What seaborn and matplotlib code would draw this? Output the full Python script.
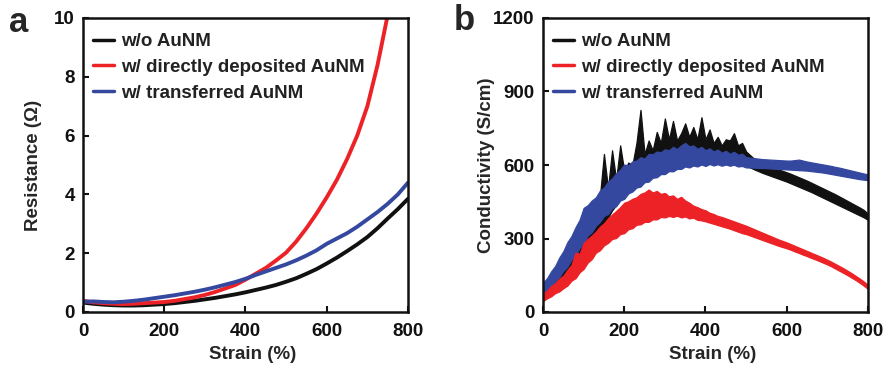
import numpy as np
import pandas as pd
import matplotlib
matplotlib.use("Agg")
import matplotlib.pyplot as plt
import seaborn as sns

# ---------------- data ----------------
series_names = ["w/o AuNM", "w/ directly deposited AuNM", "w/ transferred AuNM"]
series_colors = ["#111111", "#ec2227", "#3548a0"]

# Panel a: resistance vs strain
strain_a = [0, 25, 50, 75, 100, 125, 150, 175, 200, 225, 250, 275, 300, 325, 350, 375,
            400, 425, 450, 475, 500, 525, 550, 575, 600, 625, 650, 675, 700, 725, 750, 775, 800]
res_black = [0.32, 0.28, 0.25, 0.23, 0.22, 0.22, 0.23, 0.25, 0.27, 0.30, 0.34, 0.38, 0.43, 0.48,
             0.54, 0.60, 0.67, 0.75, 0.83, 0.92, 1.03, 1.15, 1.30, 1.46, 1.65, 1.85, 2.07, 2.30,
             2.55, 2.85, 3.18, 3.50, 3.85]
res_red = [0.38, 0.33, 0.30, 0.28, 0.27, 0.28, 0.30, 0.32, 0.34, 0.38, 0.44, 0.50, 0.58, 0.68,
           0.80, 0.92, 1.10, 1.30, 1.50, 1.75, 2.02, 2.40, 2.85, 3.35, 3.90, 4.50, 5.20, 6.00,
           7.00, 8.40, 10.10, 12.00, 14.00]
res_blue = [0.35, 0.36, 0.34, 0.33, 0.35, 0.38, 0.42, 0.47, 0.52, 0.57, 0.63, 0.69, 0.76, 0.84,
            0.93, 1.02, 1.13, 1.26, 1.38, 1.50, 1.62, 1.76, 1.92, 2.10, 2.32, 2.50, 2.68, 2.90,
            3.15, 3.40, 3.68, 4.00, 4.40]

# Panel b: conductivity vs strain (noisy traces: lower / upper edge of the trace)
strain_b = [0, 10, 20, 30, 40, 50, 60, 70, 80, 90, 100, 110, 120, 130, 140, 150, 160, 170, 180,
            190, 200, 210, 220, 230, 240, 250, 260, 270, 280, 290, 300, 310, 320, 330, 340, 350,
            360, 370, 380, 390, 400, 410, 420, 430, 440, 450, 460, 470, 480, 490, 500, 510, 520,
            530, 540, 550, 560, 570, 580, 590, 600, 610, 620, 630, 640, 650, 660, 670, 680, 690,
            700, 710, 720, 730, 740, 750, 760, 770, 780, 790, 800]
cond_black_low = [45, 60, 74, 95, 110, 126, 148, 170, 192, 218,
                  235, 262, 284, 310, 335, 362, 385, 415, 436, 462,
                  475, 500, 505, 532, 535, 552, 556, 575, 575, 595,
                  592, 608, 602, 618, 608, 625, 612, 628, 614, 626,
                  615, 624, 608, 622, 610, 616, 604, 612, 600, 604,
                  595, 590, 582, 575, 568, 562, 556, 550, 544, 538,
                  532, 525, 518, 511, 504, 497, 490, 482, 474, 466,
                  458, 450, 442, 434, 426, 418, 410, 402, 394, 386, 376]
cond_black_high = [70, 90, 110, 132, 152, 178, 198, 236, 258, 292,
                   325, 385, 405, 420, 470, 645, 505, 660, 540, 680,
                   575, 610, 600, 690, 825, 645, 700, 660, 735, 690,
                   790, 705, 780, 700, 730, 770, 715, 755, 705, 795,
                   705, 745, 690, 715, 680, 705, 700, 730, 680, 690,
                   655, 640, 625, 615, 607, 600, 594, 588, 582, 576,
                   570, 564, 557, 550, 543, 536, 528, 520, 512, 504,
                   496, 488, 480, 471, 462, 453, 444, 435, 426, 416, 400]
cond_blue_low = [75, 92, 104, 126, 143, 168, 185, 214, 230, 262,
                 280, 312, 326, 352, 368, 392, 400, 424, 432, 455,
                 462, 484, 492, 508, 512, 530, 532, 548, 550, 563,
                 563, 575, 574, 584, 584, 594, 590, 598, 594, 602,
                 596, 604, 598, 603, 597, 602, 597, 601, 594, 596,
                 590, 590, 589, 588, 588, 587, 586, 585, 584, 583,
                 582, 581, 580, 579, 578, 577, 575, 573, 571, 569,
                 566, 563, 560, 557, 554, 551, 548, 545, 542, 540, 538]
cond_blue_high = [120, 138, 166, 188, 222, 248, 285, 310, 346, 376,
                  425, 436, 455, 468, 495, 508, 532, 545, 566, 580,
                  602, 598, 615, 618, 632, 626, 645, 644, 655, 652,
                  664, 660, 674, 665, 680, 690, 676, 680, 666, 674,
                  660, 668, 655, 663, 650, 658, 646, 654, 642, 646,
                  632, 630, 628, 626, 624, 623, 622, 621, 620, 619,
                  618, 618, 620, 622, 618, 614, 611, 608, 605, 602,
                  599, 596, 592, 589, 585, 581, 577, 573, 569, 565, 562]
cond_red_low = [45, 56, 64, 77, 84, 97, 108, 128, 138, 162,
                176, 202, 216, 242, 252, 272, 282, 298, 302, 318,
                322, 338, 342, 356, 358, 368, 368, 378, 378, 388,
                386, 392, 388, 393, 386, 390, 382, 385, 376, 374,
                370, 365, 360, 355, 350, 345, 340, 334, 328, 322,
                318, 312, 306, 300, 294, 288, 282, 276, 270, 265,
                260, 254, 247, 241, 234, 228, 221, 215, 208, 201,
                194, 186, 177, 168, 159, 150, 140, 130, 119, 107, 94]
cond_red_high = [75, 88, 106, 118, 136, 148, 172, 192, 242, 238,
                 282, 298, 312, 328, 348, 362, 382, 398, 412, 428,
                 446, 452, 462, 468, 482, 488, 500, 488, 494, 482,
                 486, 472, 476, 462, 470, 455, 446, 434, 428, 420,
                 415, 405, 400, 392, 388, 382, 376, 370, 364, 358,
                 352, 345, 338, 331, 324, 317, 310, 303, 296, 290,
                 284, 277, 270, 263, 256, 249, 242, 235, 228, 221,
                 213, 205, 196, 187, 178, 168, 158, 147, 136, 124, 110]

df_a = {
    n: pd.DataFrame({"Strain": strain_a, "Value": v})
    for v, n in zip([res_black, res_red, res_blue], series_names)
}
df_b = {
    n: pd.DataFrame({"Strain": strain_b + strain_b, "Value": lo + hi})
    for lo, hi, n in zip([cond_black_low, cond_red_low, cond_blue_low],
                         [cond_black_high, cond_red_high, cond_blue_high], series_names)
}

# ---------------- style ----------------
sns.set_theme(style="ticks")
plt.rcParams["font.family"] = ["Liberation Sans", "DejaVu Sans"]
plt.rcParams["font.weight"] = "bold"
plt.rcParams["axes.labelweight"] = "bold"

fig = plt.figure(figsize=(8.87, 3.71), dpi=100)
ax_a = fig.add_axes([83 / 887, 59 / 371, 325 / 887, 294 / 371])
ax_b = fig.add_axes([543 / 887, 59 / 371, 325 / 887, 294 / 371])

palette = dict(zip(series_names, series_colors))

for n in series_names:
    sns.lineplot(data=df_a[n], x="Strain", y="Value", color=palette[n], label=n,
                 ax=ax_a, linewidth=2.8, sort=False, estimator=None)

# draw order in b: black, blue, red (legend order kept separately)
for z, n in enumerate([series_names[0], series_names[2], series_names[1]]):
    sns.lineplot(data=df_b[n], x="Strain", y="Value", color=palette[n], label=n,
                 ax=ax_b, linewidth=0.5, errorbar=("pi", 100), zorder=3 + z,
                 err_kws={"alpha": 1.0, "linewidth": 0.9, "edgecolor": palette[n],
                          "zorder": 3 + z})


def style_axes(ax, ylim, yticks, ylabel, ylab_x):
    ax.set_xlim(0, 800)
    ax.set_ylim(*ylim)
    ax.set_xticks([0, 200, 400, 600, 800])
    ax.set_yticks(yticks)
    ax.set_xlabel("Strain (%)", fontsize=13.5, fontweight="bold")
    ax.set_ylabel(ylabel, fontsize=13.5, fontweight="bold")
    ax.xaxis.set_label_coords(0.523, -0.115)
    ax.yaxis.set_label_coords(ylab_x, 0.5)
    for s in ax.spines.values():
        s.set_visible(True)
        s.set_linewidth(1.8)
        s.set_color("#111111")
        s.set_zorder(10)
    ax.tick_params(direction="in", length=4, width=1.5, labelsize=13.5,
                   top=False, right=False, colors="#111111")
    ax.tick_params(axis="x", pad=8)
    ax.tick_params(axis="y", pad=6)
    for lab in ax.get_xticklabels() + ax.get_yticklabels():
        lab.set_fontweight("bold")
    handles, labels = ax.get_legend_handles_labels()
    order = [labels.index(n) for n in series_names]
    leg = ax.legend([handles[i] for i in order], [labels[i] for i in order],
                    loc="upper left", frameon=False, fontsize=13.5, handlelength=1.1,
                    handletextpad=0.4, labelspacing=0.45, borderaxespad=0.15,
                    bbox_to_anchor=(0.0, 0.983))
    for t in leg.get_texts():
        t.set_fontweight("bold")
        t.set_color("#222222")
    for l in leg.get_lines():
        l.set_linewidth(2.5)


style_axes(ax_a, (0, 10), [0, 2, 4, 6, 8, 10], "Resistance (\u03a9)", -0.126)
style_axes(ax_b, (0, 1200), [0, 300, 600, 900, 1200], "Conductivity (S/cm)", -0.148)

fig.text(9 / 887, 1 - 22 / 371, "a", fontsize=25, fontweight="bold", va="center")
fig.text(454 / 887, 1 - 20 / 371, "b", fontsize=25, fontweight="bold", va="center")

fig.savefig("out.png", dpi=100)
